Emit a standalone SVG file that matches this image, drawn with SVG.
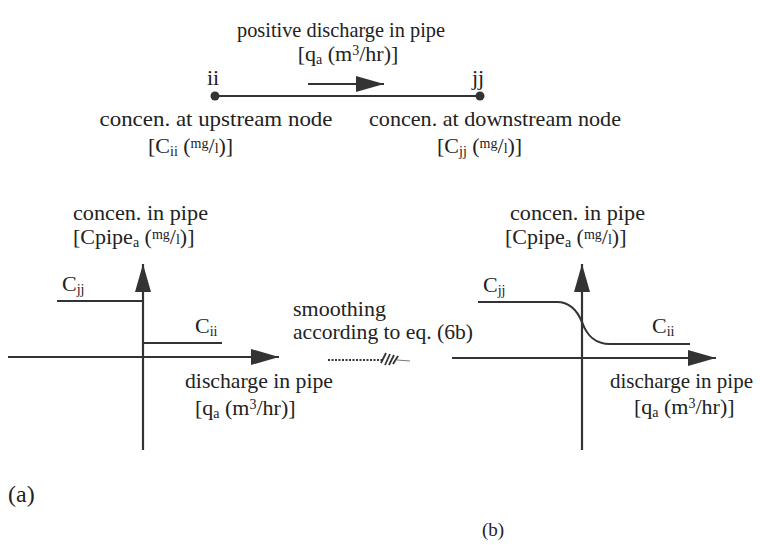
<svg xmlns="http://www.w3.org/2000/svg" width="760" height="547" viewBox="0 0 760 547">
<defs>
<style>
text{font-family:"Liberation Serif","Times New Roman",serif;fill:#222;font-size:22px}
.sub{font-size:14px}
.ax{stroke:#333;stroke-width:2.2;fill:none}
.thin{stroke:#333;stroke-width:1.8;fill:none}
</style>
<marker id="big" viewBox="0 0 28 16" refX="28" refY="8" markerWidth="28" markerHeight="16" markerUnits="userSpaceOnUse" orient="auto"><path d="M0,0 L28,8 L0,16 Z" fill="#333"/></marker>
</defs>
<rect width="760" height="547" fill="#fff"/>

<g id="connectors">
  <line class="thin" x1="215" y1="96" x2="480" y2="96"/>
  <line class="ax" x1="308" y1="84" x2="384" y2="84" marker-end="url(#big)"/>
  <line class="ax" x1="143" y1="450" x2="143" y2="264" marker-end="url(#big)"/>
  <line class="ax" x1="8" y1="357" x2="279" y2="357" marker-end="url(#big)"/>
  <line class="ax" x1="582" y1="450" x2="582" y2="264" marker-end="url(#big)"/>
  <line class="ax" x1="452" y1="358" x2="716" y2="358" marker-end="url(#big)"/>
  <g id="smooth-arrow">
    <line x1="328" y1="360" x2="384" y2="360" stroke="#333" stroke-width="2.2" stroke-dasharray="2,1.5"/>
    <path d="M381,363 L386,353 M385,365 L390,354 M389,365 L394,355 M393,364 L398,356" stroke="#333" stroke-width="1.8" fill="none"/>
    <line x1="397" y1="360" x2="410" y2="361" stroke="#777" stroke-width="1"/>
  </g>
</g>

<g id="top-title">
  <text x="341" y="37" text-anchor="middle" textLength="208" lengthAdjust="spacingAndGlyphs">positive discharge in pipe</text>
  <text x="348" y="61" text-anchor="middle">[q<tspan class="sub" dy="3">a</tspan><tspan dy="-3"> (m</tspan><tspan class="sub" dy="-6">3</tspan><tspan dy="6">/hr)]</tspan></text>
</g>

<g id="node-ii">
  <circle cx="215" cy="96" r="4.5" fill="#333"/>
  <text x="213" y="85" text-anchor="middle">ii</text>
  <text x="216" y="126" text-anchor="middle" textLength="233" lengthAdjust="spacingAndGlyphs">concen. at upstream node</text>
  <text x="148" y="153">[C<tspan class="sub" dy="3">ii</tspan><tspan dy="-3"> (</tspan><tspan class="sub" dy="-5">mg</tspan><tspan dy="5">/</tspan><tspan class="sub">l</tspan>)]</text>
</g>

<g id="node-jj">
  <circle cx="480" cy="96" r="4.5" fill="#333"/>
  <text x="478" y="85" text-anchor="middle">jj</text>
  <text x="495" y="126" text-anchor="middle" textLength="252" lengthAdjust="spacingAndGlyphs">concen. at downstream node</text>
  <text x="437" y="153">[C<tspan class="sub" dy="3">jj</tspan><tspan dy="-3"> (</tspan><tspan class="sub" dy="-5">mg</tspan><tspan dy="5">/</tspan><tspan class="sub">l</tspan>)]</text>
</g>

<g id="graph-a">
  <text x="73" y="220" textLength="135" lengthAdjust="spacingAndGlyphs">concen. in pipe</text>
  <text x="73" y="244">[Cpipe<tspan class="sub" dy="3">a</tspan><tspan dy="-3"> (</tspan><tspan class="sub" dy="-5">mg</tspan><tspan dy="5">/</tspan><tspan class="sub">l</tspan>)]</text>
  <line class="ax" x1="57" y1="301" x2="143" y2="301"/>
  <line class="ax" x1="143" y1="343" x2="222" y2="343"/>
  <text x="62" y="291">C<tspan class="sub" dy="3">jj</tspan></text>
  <text x="195" y="333">C<tspan class="sub" dy="3">ii</tspan></text>
  <text x="185" y="388" textLength="148" lengthAdjust="spacingAndGlyphs">discharge in pipe</text>
  <text x="195" y="415">[q<tspan class="sub" dy="3">a</tspan><tspan dy="-3"> (m</tspan><tspan class="sub" dy="-6">3</tspan><tspan dy="6">/hr)]</tspan></text>
</g>

<g id="smoothing-label">
  <text x="293" y="316">smoothing</text>
  <text x="293" y="339" textLength="180" lengthAdjust="spacingAndGlyphs">according to eq. (6b)</text>
</g>

<g id="graph-b">
  <text x="510" y="220" textLength="135" lengthAdjust="spacingAndGlyphs">concen. in pipe</text>
  <text x="505" y="244">[Cpipe<tspan class="sub" dy="3">a</tspan><tspan dy="-3"> (</tspan><tspan class="sub" dy="-5">mg</tspan><tspan dy="5">/</tspan><tspan class="sub">l</tspan>)]</text>
  <path class="ax" d="M478,302 H557 C570,302 577,310 582,322 C587,336 595,344 610,344 H690"/>
  <text x="483" y="292">C<tspan class="sub" dy="3">jj</tspan></text>
  <text x="652" y="333">C<tspan class="sub" dy="3">ii</tspan></text>
  <text x="610" y="388" textLength="143" lengthAdjust="spacingAndGlyphs">discharge in pipe</text>
  <text x="634" y="414">[q<tspan class="sub" dy="3">a</tspan><tspan dy="-3"> (m</tspan><tspan class="sub" dy="-6">3</tspan><tspan dy="6">/hr)]</tspan></text>
</g>

<g id="captions">
  <text x="8" y="502" style="font-size:24px">(a)</text>
  <text x="482" y="536" style="font-size:19px">(b)</text>
</g>
</svg>
